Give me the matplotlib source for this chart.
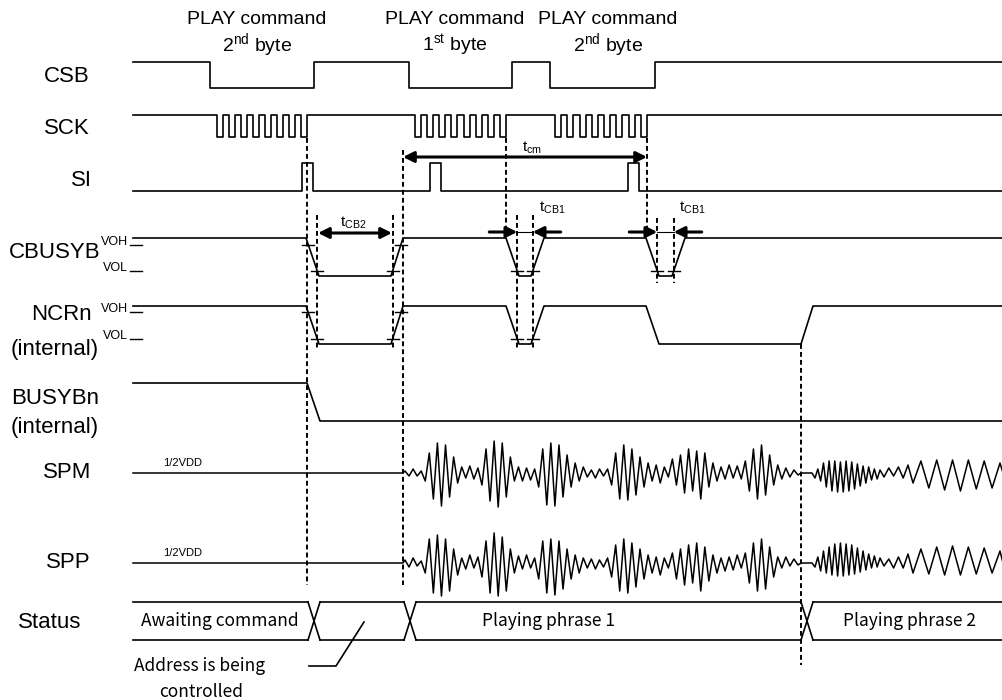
import numpy as np
import matplotlib
matplotlib.use("Agg")
import matplotlib.pyplot as plt

plt.rcParams['font.family'] = ['Liberation Sans', 'DejaVu Sans']
plt.rcParams['mathtext.fontset'] = 'custom'
plt.rcParams['mathtext.rm'] = 'Liberation Sans'
plt.rcParams['mathtext.it'] = 'Liberation Sans'

# Datos (tiempos en pixeles del diagrama)

X_START, X_END = 133, 1003

csb_edges = [210, 314, 409, 512, 550, 655]
sck_bursts = [(217, 307), (415, 506), (555, 647)]
sck_pulses = 8
si_pulses = [(302, 313), (430, 441), (628, 639)]
cbusyb_dips = [(306, 319, 391, 403), (506, 519, 531, 544), (646, 659, 672, 685)]
ncrn_dips = [(306, 319, 391, 403), (506, 519, 531, 544), (646, 659, 801, 813)]
busybn_fall = (307, 320)
status_changes = [308, 404, 801]
status_labels = ["Awaiting command", "", "Playing phrase 1", "Playing phrase 2"]

# Audio (picos de cada media onda, en pixeles, + = arriba)
spm_p1 = [2, -3, 4, -3, 2,
          -8, 20, -26, 30, -33, 28, -24, 16, -10,
          6, -5, 7, -6, 5,
          -12, 24, -28, 32, -34, 30, -24, 16, -8,
          6, -8, 5, -7, 4,
          -14, 24, -32, 30, -33, 28, -24, 18, -14, 10, -8, 6,
          -4, 3, -5, 4, -3, 4,
          -12, 20, -26, 28, -27, 24, -22, 16, -14, 10, -8,
          8, -10, 6, -4,
          14, -12, 18, -20, 24, -18, 22, -26, 20, -14, 10, -8, 6,
          -6, 8, -5, 7, -6,
          12, -18, 24, -26, 28, -22, 18, -12, 8,
          -6, 5, -4, 3, -2]
spp_p1 = [3, -4, 5, -3, 2,
          -10, 24, -30, 28, -33, 24, -28, 14, -12,
          5, -6, 8, -5, 6,
          -14, 22, -30, 30, -33, 26, -28, 14, -10,
          7, -6, 8, -5, 5,
          -16, 22, -30, 24, -32, 22, -26, 14, -16, 8, -10, 5,
          -5, 4, -6, 3, -4, 5,
          -14, 18, -28, 24, -30, 20, -24, 14, -16, 8, -10,
          6, -12, 5, -5,
          10, -16, 14, -22, 18, -20, 20, -28, 16, -18, 8, -10, 5,
          -8, 6, -7, 8, -5,
          10, -20, 20, -28, 24, -26, 16, -14, 6,
          -5, 6, -3, 4, -2]
spm_p2 = [[-5, 4, -8, 10, -14, 12, -18, 12, -19, 11, -19, 12, -18, 11, -16, 9, -13, 7, -10, 6, -7, 4, -6, 3],
          [-4, 5, -3, 6, -5, 8],
          [-10, 12, -15, 13, -17, 13, -18, 13, -16, 12, -15, 10]]
spp_p2 = [[-4, 6, -8, 12, -10, 16, -12, 19, -13, 20, -13, 19, -12, 18, -11, 15, -9, 12, -7, 9, -5, 7, -4, 5],
          [-3, 4, -5, 6, -5, 9],
          [-10, 14, -11, 16, -12, 17, -12, 16, -11, 15, -10, 12]]
p2_ranges = [(815, 880), (884, 908), (913, 1000)]

# Niveles (y en pixeles)
CSB = (62, 88)
SCK = (115, 137)
SI = (191, 163)
CB = (238, 276, 245, 271)
NC = (306, 344, 312, 339)
BU = (383, 421)
SPM_Y, SPP_Y = 473, 563
ST_TOP, ST_BOT = 602, 640

LW = 1.2
fig = plt.figure(figsize=(10.03, 7.0), dpi=100)
ax = fig.add_axes([0, 0, 1, 1])
ax.set_xlim(0, 1003)
ax.set_ylim(700, 0)
ax.axis("off")


def digital(edges, hi, lo):
    xs, ys, lvl = [X_START], [hi], hi
    for e in edges:
        nxt = lo if lvl == hi else hi
        xs += [e, e]
        ys += [lvl, nxt]
        lvl = nxt
    xs.append(X_END)
    ys.append(lvl)
    return xs, ys


def trapez(dips, hi, lo):
    xs, ys = [X_START], [hi]
    for a, b, c, d in dips:
        xs += [a, b, c, d]
        ys += [hi, lo, lo, hi]
    xs.append(X_END)
    ys.append(hi)
    return xs, ys


def cross(x0, x1, y0, y1, y):
    return x0 + (x1 - x0) * (y - y0) / (y1 - y0)


# CSB
ax.plot(*digital(csb_edges, *CSB), color="k", lw=LW)

# SCK
sck_edges = []
for s, e in sck_bursts:
    w = (e - s) / (2 * sck_pulses - 1)
    sck_edges += [s + k * w for k in range(2 * sck_pulses)]
ax.plot(*digital(sck_edges, *SCK), color="k", lw=LW)

# SI
si_edges = [v for p in si_pulses for v in p]
ax.plot(*digital(si_edges, *SI), color="k", lw=LW)

# CBUSYB y NCRn
ax.plot(*trapez(cbusyb_dips, CB[0], CB[1]), color="k", lw=LW)
ax.plot(*trapez(ncrn_dips, NC[0], NC[1]), color="k", lw=LW)

# BUSYBn
ax.plot([X_START, busybn_fall[0], busybn_fall[1], X_END], [BU[0], BU[0], BU[1], BU[1]], color="k", lw=LW)


def ticks(dip, lv, levels):
    hi, lo = lv[0], lv[1]
    a, b, c, d = dip
    out = []
    for y in levels:
        xf = cross(a, b, hi, lo, y)
        xr = cross(c, d, lo, hi, y)
        for x in (xf, xr):
            ax.plot([x - 6, x + 6], [y, y], color="k", lw=1.0)
            out.append(x)
    return out


ticks(cbusyb_dips[0], CB, [CB[2], CB[3]])
vol1 = ticks(cbusyb_dips[1], CB, [CB[3]])
vol2 = ticks(cbusyb_dips[2], CB, [CB[3]])
ticks(ncrn_dips[0], NC, [NC[2], NC[3]])
ticks(ncrn_dips[1], NC, [NC[3]])

# VOH / VOL
for lv in (CB, NC):
    for y, t in ((lv[2], "VOH"), (lv[3], "VOL")):
        ax.text(128, y - 3, t, fontsize=9, ha="right", va="center")
        ax.plot([130, 142], [y, y], color="k", lw=1.0)

# Audio
p1_x = np.linspace(405, 798, len(spm_p1))
for base, p1, p2 in ((SPM_Y, spm_p1, spm_p2), (SPP_Y, spp_p1, spp_p2)):
    xs = [X_START, 403] + list(p1_x) + [801, 812]
    ys = [0, 0] + list(p1) + [0, 0]
    for (r0, r1), seg in zip(p2_ranges, p2):
        xs += list(np.linspace(r0, r1, len(seg)))
        ys += seg
    xs.append(X_END)
    ys.append(0)
    ax.plot(xs, base - np.array(ys), color="k", lw=1.1)
    ax.text(163, base - 10, "1/2VDD", fontsize=8, ha="left", va="center")

# Status
xc = [X_START] + status_changes + [X_END]
for i in range(len(xc) - 1):
    x0 = xc[i] + (12 if i > 0 else 0)
    x1 = xc[i + 1]
    ax.plot([x0, x1], [ST_TOP, ST_TOP], color="k", lw=LW)
    ax.plot([x0, x1], [ST_BOT, ST_BOT], color="k", lw=LW)
for c in status_changes:
    ax.plot([c, c + 12], [ST_TOP, ST_BOT], color="k", lw=LW)
    ax.plot([c, c + 12], [ST_BOT, ST_TOP], color="k", lw=LW)
status_x = [220, 0, 549, 910]
for t, x in zip(status_labels, status_x):
    if t:
        ax.text(x, 621, t, fontsize=12.5, ha="center", va="center",
                family=["Noto Sans CJK JP", "DejaVu Sans"])

ax.plot([309, 336, 364], [666, 666, 622], color="k", lw=LW)
ax.text(200, 666, "Address is being", fontsize=12.5, ha="center", va="center",
        family=["Noto Sans CJK JP", "DejaVu Sans"])
ax.text(201, 692, "controlled", fontsize=12.5, ha="center", va="center",
        family=["Noto Sans CJK JP", "DejaVu Sans"])

# Lineas punteadas
dash = dict(color="k", lw=1.4, linestyle=(0, (2.5, 1.6)))
ax.plot([sck_bursts[0][1]] * 2, [138, 585], **dash)
ax.plot([cbusyb_dips[0][3]] * 2, [150, 585], **dash)
ax.plot([sck_bursts[1][1]] * 2, [138, 232], **dash)
ax.plot([sck_bursts[2][1]] * 2, [138, 232], **dash)
d0 = cbusyb_dips[0]
for x in (cross(d0[0], d0[1], CB[0], CB[1], CB[3]), cross(d0[2], d0[3], CB[1], CB[0], CB[3])):
    ax.plot([x, x], [215, 348], **dash)
for x in vol1:
    ax.plot([x, x], [215, 348], **dash)
for x in vol2:
    ax.plot([x, x], [218, 283], **dash)
ax.plot([ncrn_dips[2][2]] * 2, [344, 665], **dash)

# Flechas
arr2 = dict(arrowstyle="<|-|>", color="k", lw=2.2, mutation_scale=16, shrinkA=0, shrinkB=0)
ax.annotate("", xy=(sck_bursts[2][1], 157), xytext=(cbusyb_dips[0][3], 157), arrowprops=arr2)
ax.annotate("", xy=(392, 233), xytext=(318, 233), arrowprops=arr2)
ax.text(532, 148, r"t$_{\mathrm{cm}}$", fontsize=11, ha="center", va="center")
ax.text(353, 223, r"t$_{\mathrm{CB2}}$", fontsize=11, ha="center", va="center")

arr1 = dict(arrowstyle="-|>", color="k", lw=2.2, mutation_scale=16, shrinkA=0, shrinkB=0)
for xl, xr in (vol1, vol2):
    ax.annotate("", xy=(xl, 232), xytext=(xl - 28, 232), arrowprops=arr1)
    ax.annotate("", xy=(xr, 232), xytext=(xr + 28, 232), arrowprops=arr1)
    ax.plot([xl, xr], [232, 232], color="k", lw=0.8)
    ax.text((xl + xr) / 2 + 27, 208, r"t$_{\mathrm{CB1}}$", fontsize=11, ha="center", va="center")

# Encabezados
heads = [(257, r"2$^{\mathrm{nd}}$ byte"), (455, r"1$^{\mathrm{st}}$ byte"), (608, r"2$^{\mathrm{nd}}$ byte")]
for x, t in heads:
    ax.text(x, 20, "PLAY command", fontsize=14, ha="center", va="center")
    ax.text(x, 45, t, fontsize=14, ha="center", va="center")

# Nombres de senales
names = [("CSB", 67, 76), ("SCK", 67, 128), ("SI", 81, 180), ("CBUSYB", 55, 253),
         ("NCRn", 61, 315), ("(internal)", 55, 350), ("BUSYBn", 55, 398),
         ("(internal)", 55, 428), ("SPM", 67, 473), ("SPP", 68, 562), ("Status", 50, 622)]
for t, x, y in names:
    ax.text(x, y, t, fontsize=16, ha="center", va="center")

fig.savefig("out.png", dpi=100)
